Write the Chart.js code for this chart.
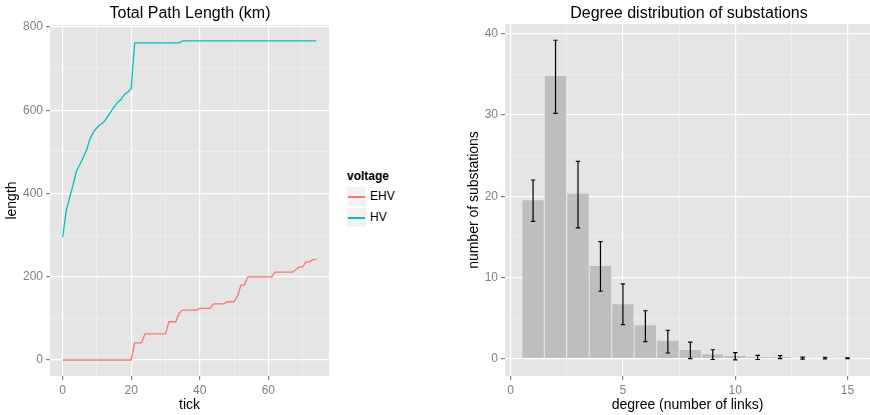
<!DOCTYPE html>
<html>
<head>
<meta charset="utf-8">
<script src="https://cdn.jsdelivr.net/npm/chart.js@4.4.1/dist/chart.umd.min.js"></script>
<style>
  body { margin: 0; background: #fff; font-family: 'Liberation Sans', Arial, Helvetica, sans-serif; }
  #wrap { position: relative; width: 870px; height: 415px; overflow: hidden; }
  canvas { position: absolute; top: 0; }
  .ttl { position: absolute; top: 4px; font-size: 16px; color: #000; white-space: nowrap; transform: translateX(-50%); }
  .leg { position: absolute; font-size: 12px; color: #000; }
  .key { position: absolute; width: 19px; height: 19px; background: #f2f2f2; }
  .key span { position: absolute; left: 1px; right: 1px; top: 9px; height: 1.5px; }
</style>
</head>
<body>
<div id="wrap">
  <canvas id="pathChart" width="340" height="415" style="left:0"></canvas>
  <canvas id="degreeChart" width="415" height="415" style="left:455px"></canvas>
  <div class="ttl" style="left:190px">Total Path Length (km)</div>
  <div class="ttl" style="left:689px">Degree distribution of substations</div>
  <div class="leg" style="left:347px;top:169px;font-weight:bold">voltage</div>
  <div class="key" style="left:347px;top:187px"><span style="background:#F8766D"></span></div>
  <div class="leg" style="left:370px;top:189px">EHV</div>
  <div class="key" style="left:347px;top:208px"><span style="background:#00BFC4"></span></div>
  <div class="leg" style="left:370px;top:210px">HV</div>
</div>
<script>
// left panel: cumulative length per tick
const hvLength = [295, 357, 390, 420, 453, 470, 487, 505, 532, 548,
    558, 566, 572, 583, 596, 608, 619, 626, 638, 644,
    652, 762, 762, 762, 762, 762, 762, 762, 762, 762,
    762, 762, 762, 762, 762, 767, 767, 767, 767, 767,
    767, 767, 767, 767, 767, 767, 767, 767, 767, 767,
    767, 767, 767, 767, 767, 767, 767, 767, 767, 767,
    767, 767, 767, 767, 767, 767, 767, 767, 767, 767,
    767, 767, 767, 767, 767];
const ehvLength = [0, 0, 0, 0, 0, 0, 0, 0, 0, 0,
    0, 0, 0, 0, 0, 0, 0, 0, 0, 0,
    0, 41, 41, 41, 63, 63, 63, 63, 63, 63,
    63, 92, 92, 92, 113, 120, 120, 120, 120, 120,
    124, 124, 124, 124, 135, 135, 135, 135, 140, 140,
    140, 153, 180, 180, 200, 200, 200, 200, 200, 200,
    200, 200, 211, 211, 211, 211, 211, 211, 217, 224,
    224, 236, 236, 241, 242];
const pathYTicks = [0, 100, 200, 300, 400, 500, 600, 700, 800];
const pathXTicks = [0, 10, 20, 30, 40, 50, 60, 70];

// right panel: degree histogram with error bars
const degrees = [1, 2, 3, 4, 5, 6, 7, 8, 9, 10, 11, 12, 13, 14, 15];
const degreeCount = [19.5, 34.8, 20.3, 11.4, 6.7, 4.1, 2.2, 1.07, 0.53, 0.33, 0.2, 0.2, 0.08, 0.08, 0.05];
const errHigh = [22.0, 39.2, 24.3, 14.4, 9.2, 5.9, 3.5, 2.05, 1.1, 0.74, 0.4, 0.37, 0.2, 0.18, 0.1];
const errLow = [16.9, 30.2, 16.1, 8.3, 4.2, 2.1, 0.7, 0.0, -0.1, -0.15, -0.1, 0.0, -0.05, -0.03, 0.0];
const degYTicks = [0, 5, 10, 15, 20, 25, 30, 35, 40];
const degXTicks = [0, 2.5, 5, 7.5, 10, 12.5, 15];

const FONT = "'Liberation Sans', Arial, Helvetica, sans-serif";

// grey panel background like ggplot
const panelBg = {
    id: 'panelBg',
    beforeDraw(chart) {
        const a = chart.chartArea;
        const ctx = chart.ctx;
        ctx.save();
        ctx.fillStyle = '#e5e5e5';
        ctx.fillRect(a.left, a.top, a.right - a.left, a.bottom - a.top);
        ctx.restore();
    }
};

function makeAxis(min, max, tickList, majorStep, size, titleText, titlePad) {
    const isMajor = v => Math.abs(v / majorStep - Math.round(v / majorStep)) < 1e-6;
    const major = c => c.tick && isMajor(c.tick.value);
    return {
        type: 'linear',
        min: min,
        max: max,
        offset: false,
        afterBuildTicks: s => { s.ticks = tickList.map(v => ({ value: v })); },
        afterFit: s => { if (s.isHorizontal()) s.height = size; else s.width = size; },
        border: { display: false },
        grid: {
            offset: false,
            color: c => major(c) ? '#ffffff' : '#f2f2f2',
            lineWidth: c => major(c) ? 1.2 : 0.6,
            tickColor: c => major(c) ? '#7f7f7f' : 'rgba(0,0,0,0)',
            tickLength: 4
        },
        ticks: {
            autoSkip: false,
            maxRotation: 0,
            padding: 3,
            color: '#7f7f7f',
            font: { family: FONT, size: 12 },
            callback: v => isMajor(v) ? v : ''
        },
        title: {
            display: true,
            text: titleText,
            color: '#000',
            font: { family: FONT, size: 14 },
            padding: titlePad
        }
    };
}

document.addEventListener('DOMContentLoaded', function () {
    const pathCtx = document.getElementById('pathChart').getContext('2d');
    const pathChart = new Chart(pathCtx, {
        type: 'line',
        data: {
            datasets: [{
                label: 'EHV',
                data: ehvLength.map((v, i) => ({ x: i, y: v })),
                borderColor: '#F8766D',
                borderWidth: 1.3,
                pointRadius: 0,
                tension: 0
            }, {
                label: 'HV',
                data: hvLength.map((v, i) => ({ x: i, y: v })),
                borderColor: '#00BFC4',
                borderWidth: 1.3,
                pointRadius: 0,
                tension: 0
            }]
        },
        options: {
            responsive: false,
            animation: false,
            devicePixelRatio: 1,
            layout: { padding: { top: 25, right: 11, left: 0, bottom: 0 } },
            plugins: { legend: { display: false }, tooltip: { enabled: false } },
            scales: {
                x: makeAxis(-3.7, 77.7, pathXTicks, 20, 39, 'tick', { top: 4, bottom: 1 }),
                y: makeAxis(-38.4, 805, pathYTicks, 200, 50, 'length', { top: 4, bottom: 4 })
            }
        },
        plugins: [panelBg]
    });

    // error bars drawn on top of the bars
    const errorBars = {
        id: 'errorBars',
        afterDatasetsDraw(chart) {
            const ctx = chart.ctx;
            const xs = chart.scales.x;
            const ys = chart.scales.y;
            ctx.save();
            ctx.strokeStyle = '#000';
            ctx.lineWidth = 1.2;
            degrees.forEach((d, i) => {
                const x = xs.getPixelForValue(d);
                const y1 = ys.getPixelForValue(errLow[i]);
                const y2 = ys.getPixelForValue(errHigh[i]);
                ctx.beginPath();
                ctx.moveTo(x, y1); ctx.lineTo(x, y2);
                ctx.moveTo(x - 2.2, y1); ctx.lineTo(x + 2.2, y1);
                ctx.moveTo(x - 2.2, y2); ctx.lineTo(x + 2.2, y2);
                ctx.stroke();
            });
            ctx.restore();
        }
    };

    const degCtx = document.getElementById('degreeChart').getContext('2d');
    const degreeChart = new Chart(degCtx, {
        type: 'bar',
        data: {
            datasets: [{
                label: 'substations',
                data: degrees.map((d, i) => ({ x: d, y: degreeCount[i] })),
                backgroundColor: '#bebebe',
                borderWidth: 0,
                categoryPercentage: 1,
                barPercentage: 0.95
            }]
        },
        options: {
            responsive: false,
            animation: false,
            devicePixelRatio: 1,
            layout: { padding: { top: 24, right: 0, left: 0, bottom: 0 } },
            plugins: { legend: { display: false }, tooltip: { enabled: false } },
            scales: {
                x: makeAxis(-0.25, 16.0, degXTicks, 5, 39, 'degree (number of links)', { top: 4, bottom: 1 }),
                y: makeAxis(-2.13, 41.2, degYTicks, 10, 50, 'number of substations', { top: 11, bottom: 4 })
            }
        },
        plugins: [panelBg, errorBars]
    });

    window.pathChart = pathChart;
    window.degreeChart = degreeChart;
});
</script>
</body>
</html>
